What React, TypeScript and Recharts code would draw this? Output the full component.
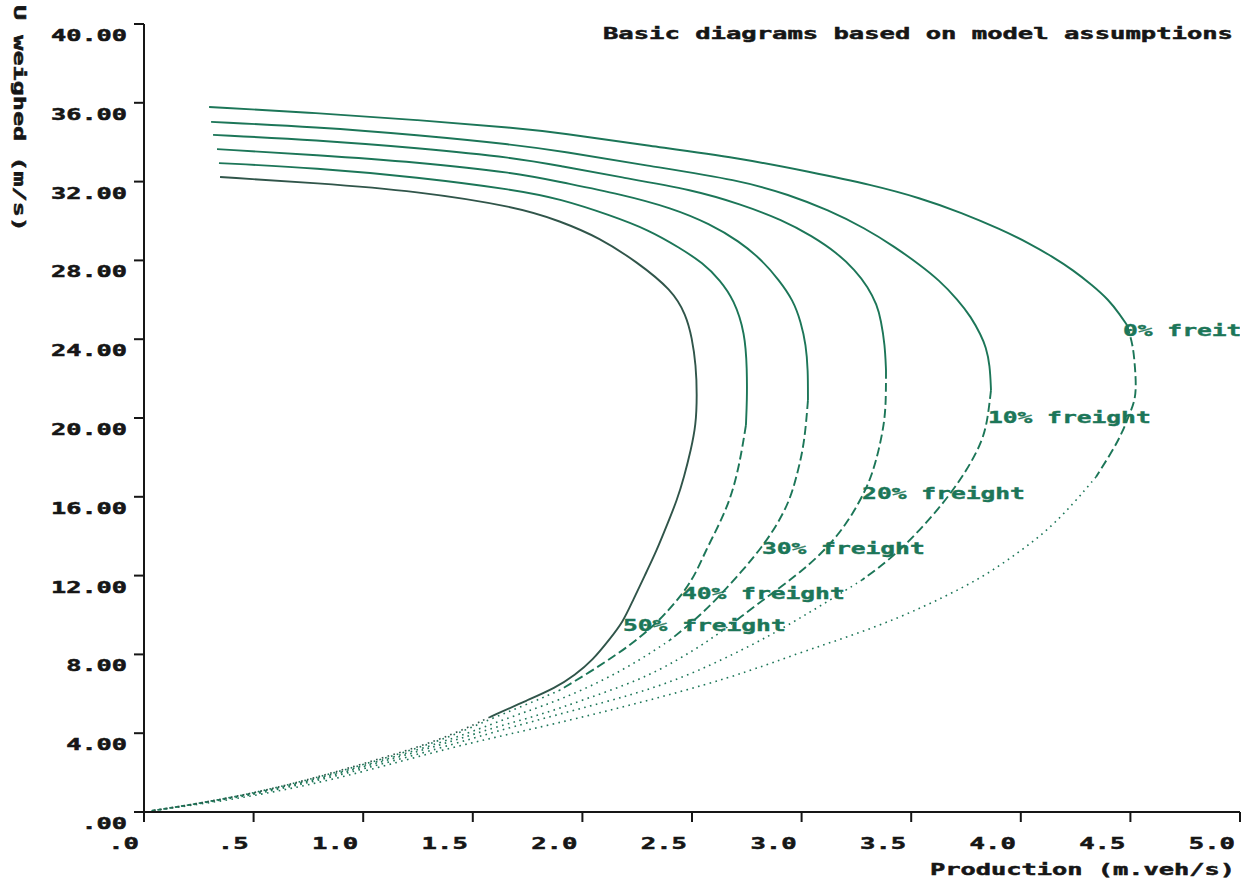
import React from 'react';
import { ComposedChart, Line, Scatter, XAxis, YAxis } from 'recharts';

const W = 1260;
const H = 885;
const FONT = '"DejaVu Sans Mono", "Liberation Mono", monospace';
const GREEN = '#1c7658';
const DARK = '#30554a';
const INK = '#161616';

// axes
const xTicks = [0, 0.5, 1, 1.5, 2, 2.5, 3, 3.5, 4, 4.5, 5];
const xTickLabels = ['.0', '.5', '1.0', '1.5', '2.0', '2.5', '3.0', '3.5', '4.0', '4.5', '5.0'];
const yTicks = [0, 4, 8, 12, 16, 20, 24, 28, 32, 36, 40];
const yTickLabels = ['.00', '4.00', '8.00', '12.00', '16.00', '20.00', '24.00', '28.00', '32.00', '36.00', '40.00'];

// 0% freight  [production, U]
const f0Solid = [[0.297, 35.79], [0.789, 35.48], [1.245, 35.13], [1.702, 34.72], [1.898, 34.47], [2.308, 33.81], [2.714, 33.2], [3.038, 32.49], [3.321, 31.83], [3.54, 31.17], [3.732, 30.41], [3.905, 29.59], [4.037, 28.88], [4.147, 28.17], [4.238, 27.51], [4.325, 26.75], [4.402, 25.99], [4.453, 25.23], [4.484, 24.72]];
const f0Dashed = [[4.484, 24.72], [4.512, 23.71], [4.521, 22.59], [4.526, 21.67], [4.521, 20.91], [4.498, 20.25], [4.462, 19.24], [4.421, 18.38], [4.343, 17.01]];
const f0Dotted = [[4.343, 17.01], [4.243, 15.69], [4.124, 14.31], [3.987, 13.15], [3.828, 11.93], [3.65, 10.91], [3.454, 9.9], [3.212, 8.88], [2.984, 8.07], [2.692, 6.85], [2.194, 5.33], [1.752, 4.16], [1.405, 3.3], [0.999, 2.03], [0.712, 1.27], [0.42, 0.66], [0.128, 0.2], [0.027, 0.05]];

// 10% freight
const f10Solid = [[0.306, 35.03], [0.789, 34.77], [1.245, 34.37], [1.702, 33.86], [1.898, 33.55], [2.308, 32.79], [2.714, 32.08], [2.947, 31.32], [3.12, 30.56], [3.289, 29.64], [3.426, 28.68], [3.54, 27.77], [3.627, 27.0], [3.714, 25.99], [3.773, 25.13], [3.818, 24.21], [3.841, 23.6], [3.859, 22.69], [3.864, 21.42]];
const f10Dashed = [[3.864, 21.42], [3.85, 20.05], [3.828, 18.88], [3.755, 17.36], [3.659, 15.84], [3.54, 14.31], [3.417, 12.94], [3.276, 11.78]];
const f10Dotted = [[3.276, 11.78], [3.13, 10.76], [2.979, 9.75], [2.842, 8.88], [2.701, 8.07], [2.468, 6.85], [2.226, 5.94], [1.966, 5.18], [1.578, 4.01], [1.355, 3.25], [0.999, 2.18], [0.712, 1.37], [0.42, 0.71], [0.128, 0.22], [0.027, 0.05]];

// 20% freight
const f20Solid = [[0.315, 34.37], [0.789, 34.11], [1.245, 33.71], [1.702, 33.2], [1.898, 32.79], [2.172, 32.23], [2.509, 31.57], [2.719, 30.86], [2.915, 30.05], [3.047, 29.24], [3.162, 28.38], [3.244, 27.51], [3.303, 26.65], [3.344, 25.74], [3.362, 24.97], [3.38, 23.71], [3.385, 22.44]];
const f20Dashed = [[3.385, 22.44], [3.385, 21.17], [3.38, 19.9], [3.353, 18.38], [3.321, 17.11], [3.285, 16.19], [3.23, 15.08], [3.166, 14.06], [3.084, 13.05], [2.979, 12.03], [2.824, 10.76], [2.705, 9.75]];
const f20Dotted = [[2.705, 9.75], [2.582, 8.73], [2.436, 7.72], [2.263, 6.7], [2.003, 5.69], [1.807, 4.92], [1.601, 4.31], [1.355, 3.4], [0.999, 2.28], [0.712, 1.42], [0.42, 0.76], [0.128, 0.22], [0.027, 0.05]];

// 30% freight
const f30Solid = [[0.333, 33.65], [0.789, 33.35], [1.245, 32.99], [1.702, 32.44], [1.898, 31.98], [2.172, 31.37], [2.409, 30.66], [2.582, 29.85], [2.714, 28.98], [2.819, 28.02], [2.897, 27.0], [2.961, 25.99], [2.997, 24.87], [3.02, 23.71], [3.029, 22.44], [3.029, 20.91]];
const f30Dashed = [[3.029, 20.91], [3.02, 19.64], [3.006, 18.38], [2.979, 17.11], [2.947, 15.84], [2.888, 14.57], [2.819, 13.45], [2.733, 12.28], [2.609, 10.76], [2.514, 9.75], [2.4, 8.73]];
const f30Dotted = [[2.4, 8.73], [2.263, 7.72], [2.099, 6.7], [1.898, 5.69], [1.738, 5.08], [1.601, 4.52], [1.355, 3.5], [0.999, 2.34], [0.712, 1.47], [0.42, 0.76], [0.128, 0.22], [0.027, 0.05]];

// 40% freight
const f40Solid = [[0.342, 32.94], [0.789, 32.69], [1.245, 32.23], [1.702, 31.57], [1.898, 31.12], [2.126, 30.3], [2.304, 29.54], [2.445, 28.63], [2.55, 27.87], [2.628, 27.0], [2.692, 25.99], [2.742, 24.31], [2.751, 22.44], [2.751, 20.91], [2.746, 19.64]];
const f40Dashed = [[2.746, 19.64], [2.728, 18.38], [2.705, 17.11], [2.673, 15.84], [2.623, 14.57], [2.564, 13.3], [2.514, 12.03], [2.459, 11.12], [2.432, 10.76], [2.354, 9.75], [2.249, 8.73], [2.153, 7.97], [2.035, 7.11], [1.898, 6.19]];
const f40Dotted = [[1.898, 6.19], [1.797, 5.69], [1.578, 4.72], [1.355, 3.6], [0.999, 2.39], [0.712, 1.52], [0.42, 0.76], [0.128, 0.22], [0.027, 0.05]];

// 50% freight
const f50Solid = [[0.347, 32.23], [0.789, 31.93], [1.245, 31.52], [1.702, 30.71], [1.898, 30.0], [2.08, 29.14], [2.249, 27.92], [2.409, 26.5], [2.473, 25.23], [2.5, 24.06], [2.518, 22.69], [2.523, 21.17], [2.518, 19.64], [2.495, 18.38], [2.464, 17.01], [2.432, 15.84], [2.386, 14.57], [2.34, 13.3], [2.286, 12.03], [2.231, 10.76], [2.185, 9.64], [2.121, 8.73], [2.048, 7.72], [1.966, 6.95], [1.875, 6.29], [1.752, 5.69], [1.578, 4.82]];
const f50Dotted = [[1.578, 4.82], [1.355, 3.65], [0.999, 2.44], [0.712, 1.52], [0.42, 0.76], [0.128, 0.22], [0.027, 0.05]];

// curve labels
const labelTexts = ['0% freit', '10% freight', '20% freight', '30% freight', '40% freight', '50% freight'];
const labelX = [4.466, 3.85, 3.276, 2.819, 2.454, 2.185];
const labelY = [24.47, 20.05, 16.19, 13.4, 11.12, 9.49];

const toPts = (a: number[][]) => a.map(([x, y]) => ({ x, y }));

const curves = [
  { id: 'f0', color: GREEN, parts: [f0Solid, f0Dashed, f0Dotted] },
  { id: 'f10', color: GREEN, parts: [f10Solid, f10Dashed, f10Dotted] },
  { id: 'f20', color: GREEN, parts: [f20Solid, f20Dashed, f20Dotted] },
  { id: 'f30', color: GREEN, parts: [f30Solid, f30Dashed, f30Dotted] },
  { id: 'f40', color: GREEN, parts: [f40Solid, f40Dashed, f40Dotted] },
  { id: 'f50', color: DARK, parts: [f50Solid, [], f50Dotted] },
];
const dashes = [undefined, '9 4', '1.6 4.4'];

const labelData = labelTexts.map((t, i) => ({ x: labelX[i], y: labelY[i], text: t }));

const XTick = (props: any) => {
  const { x, y, payload } = props;
  const i = xTicks.indexOf(payload.value);
  const s = xTickLabels[i] ?? String(payload.value);
  return (
    <text x={x - 5} y={y + 25} textAnchor="end" fontFamily={FONT} fontWeight="bold" fontSize={16}
      fill={INK} stroke={INK} strokeWidth={0.5} textLength={s.length * 15.4} lengthAdjust="spacingAndGlyphs">{s}</text>
  );
};

const YTick = (props: any) => {
  const { x, y, payload } = props;
  const i = yTicks.indexOf(payload.value);
  const s = yTickLabels[i] ?? String(payload.value);
  return (
    <text x={x - 5} y={y + 17} textAnchor="end" fontFamily={FONT} fontWeight="bold" fontSize={15.5}
      fill={INK} stroke={INK} strokeWidth={0.5} textLength={s.length * 15.2} lengthAdjust="spacingAndGlyphs">{s}</text>
  );
};

const CurveLabel = (props: any) => {
  const { cx, cy, payload } = props;
  if (cx == null || cy == null) return null;
  const s: string = payload.text;
  return (
    <text x={cx} y={cy + 6} fontFamily={FONT} fontWeight="bold" fontSize={16} fill={GREEN}
      stroke={GREEN} strokeWidth={0.4} textLength={s.length * 14.8} lengthAdjust="spacingAndGlyphs">{s}</text>
  );
};

export default function App() {
  return (
    <div style={{ position: 'fixed', left: 0, top: 0, width: W, height: H, background: '#fff', overflow: 'hidden' }}>
      <ComposedChart width={W} height={H} margin={{ top: 24, right: 20, bottom: 33, left: 84 }}>
        <XAxis
          dataKey="x" type="number" domain={[0, 5]} ticks={xTicks} interval={0} allowDataOverflow
          height={40} tickSize={10} tick={<XTick />}
          axisLine={{ stroke: INK, strokeWidth: 2 }} tickLine={{ stroke: INK, strokeWidth: 2 }}
        />
        <YAxis
          dataKey="y" type="number" domain={[0, 40]} ticks={yTicks} interval={0} allowDataOverflow
          width={60} tickSize={10} tick={<YTick />}
          axisLine={{ stroke: INK, strokeWidth: 2 }} tickLine={{ stroke: INK, strokeWidth: 2 }}
        />
        {curves.flatMap((c) =>
          c.parts.map((p, k) =>
            p.length ? (
              <Line
                key={`${c.id}-${k}`}
                name={`${c.id}-${k}`}
                data={toPts(p)}
                dataKey="y"
                type="basis"
                stroke={c.color}
                strokeWidth={k === 2 ? 1.6 : 1.9}
                strokeDasharray={dashes[k]}
                dot={false}
                activeDot={false}
                isAnimationActive={false}
              />
            ) : null
          )
        )}
        <Scatter data={labelData} dataKey="y" shape={<CurveLabel />} isAnimationActive={false} />
      </ComposedChart>
      <svg width={W} height={H} style={{ position: 'absolute', left: 0, top: 0, pointerEvents: 'none' }}>
        <text x={603} y={39} fontFamily={FONT} fontWeight="bold" fontSize={16} fill={INK} stroke={INK} strokeWidth={0.5}
          textLength={630} lengthAdjust="spacingAndGlyphs">Basic diagrams based on model assumptions</text>
        <text x={930} y={875} fontFamily={FONT} fontWeight="bold" fontSize={16} fill={INK} stroke={INK} strokeWidth={0.5}
          textLength={305} lengthAdjust="spacingAndGlyphs">Production (m.veh/s)</text>
        <text transform="translate(14,5) rotate(90)" x={0} y={0} fontFamily={FONT} fontWeight="bold" fontSize={15.5}
          fill={INK} stroke={INK} strokeWidth={0.5} textLength={227} lengthAdjust="spacingAndGlyphs">U weighed (m/s)</text>
      </svg>
    </div>
  );
}
